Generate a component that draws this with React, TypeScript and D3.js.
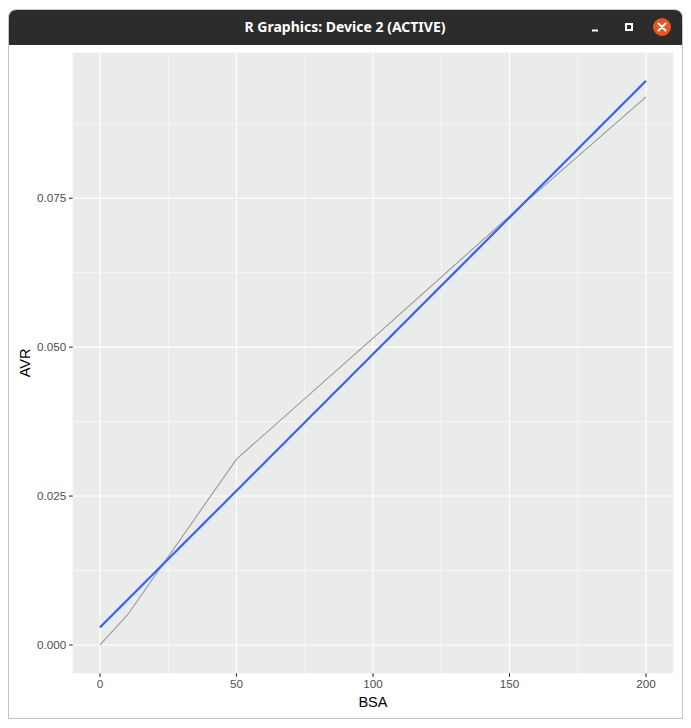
import React from "react";
import * as d3 from "d3";

const BSA = [0, 10, 50, 100, 150, 200];
const AVR = [0, 0.005, 0.0312, 0.0515, 0.072, 0.092];
const xTicks = [0, 50, 100, 150, 200];
const yTicks = [0, 0.025, 0.05, 0.075];
const xMinor = [25, 75, 125, 175];
const yMinor = [0.0125, 0.0375, 0.0625, 0.0875];
const xLabel = "BSA";
const yLabel = "AVR";
const windowTitle = "R Graphics: Device 2 (ACTIVE)";

export default function App() {
  const W = 691, H = 728;
  // linear fit (geom_smooth method = "lm")
  const mx = d3.mean(BSA)!;
  const my = d3.mean(AVR)!;
  let sxy = 0, sxx = 0;
  BSA.forEach((x, i) => { sxy += (x - mx) * (AVR[i] - my); sxx += (x - mx) * (x - mx); });
  const slope = sxy / sxx;
  const icpt = my - slope * mx;
  const xMin = d3.min(BSA)!, xMax = d3.max(BSA)!;
  const fitX = d3.range(0, 81).map(i => xMin + (xMax - xMin) * i / 80);
  const fitY = fitX.map(x => icpt + slope * x);

  const yAll = [...AVR, ...fitY];
  const yLo = d3.min(yAll)!, yHi = d3.max(yAll)!;
  const xPad = (xMax - xMin) * 0.05, yPad = (yHi - yLo) * 0.05;

  const pL = 72.7, pR = 673.3, pT = 52.6, pB = 673.2;
  const x = d3.scaleLinear().domain([xMin - xPad, xMax + xPad]).range([pL, pR]);
  const y = d3.scaleLinear().domain([yLo - yPad, yHi + yPad]).range([pB, pT]);

  const line = d3.line<[number, number]>().x(d => x(d[0])).y(d => y(d[1]));
  const dataPath = line(BSA.map((b, i) => [b, AVR[i]] as [number, number]))!;
  const fitPath = line(fitX.map((b, i) => [b, fitY[i]] as [number, number]))!;

  const tickCol = "#333333";
  const labCol = "#4d4d4d";
  const font = "'Liberation Sans', Arial, sans-serif";

  return (
    <svg width={W} height={H} style={{ position: "absolute", left: 0, top: 0, display: "block" }}>
      <rect x={0} y={0} width={W} height={H} fill="#ffffff" />
      {/* window frame */}
      <path d={`M8.5,718.5 L8.5,18 Q8.5,9.5 17,9.5 L674,9.5 Q682.5,9.5 682.5,18 L682.5,718.5 Z`} fill="#ffffff" stroke="#c4c4c4" strokeWidth={1} />
      <path d={`M9,45 L9,18 Q9,10 17,10 L674,10 Q682,10 682,18 L682,45 Z`} fill="#2c2c2c" />
      <text x={345} y={32} textAnchor="middle" fill="#ffffff" fontFamily="'Noto Sans', 'DejaVu Sans', sans-serif" fontWeight="bold" fontSize={14}>{windowTitle}</text>
      <line x1={592} x2={598} y1={30.5} y2={30.5} stroke="#ffffff" strokeWidth={2} />
      <rect x={626} y={24} width={6} height={6} fill="none" stroke="#ffffff" strokeWidth={2} />
      <circle cx={662} cy={27} r={9} fill="#e95420" />
      <path d="M658.5,23.5 L665.5,30.5 M665.5,23.5 L658.5,30.5" stroke="#ffffff" strokeWidth={2} strokeLinecap="round" />

      {/* panel */}
      <rect x={pL} y={pT} width={pR - pL} height={pB - pT} fill="#ebebeb" />
      {xMinor.map(v => <line key={"xm" + v} x1={x(v)} x2={x(v)} y1={pT} y2={pB} stroke="#ffffff" strokeWidth={0.55} />)}
      {yMinor.map(v => <line key={"ym" + v} y1={y(v)} y2={y(v)} x1={pL} x2={pR} stroke="#ffffff" strokeWidth={0.55} />)}
      {xTicks.map(v => <line key={"xM" + v} x1={x(v)} x2={x(v)} y1={pT} y2={pB} stroke="#ffffff" strokeWidth={1.1} />)}
      {yTicks.map(v => <line key={"yM" + v} y1={y(v)} y2={y(v)} x1={pL} x2={pR} stroke="#ffffff" strokeWidth={1.1} />)}

      <path d={dataPath} fill="none" stroke="#999999" strokeWidth={1.1} />
      <path d={fitPath} fill="none" stroke="#3366ff" strokeWidth={2.2} />

      {/* axes */}
      {xTicks.map(v => (
        <g key={"xt" + v}>
          <line x1={x(v)} x2={x(v)} y1={pB} y2={pB + 3.7} stroke={tickCol} strokeWidth={1.1} />
          <text x={x(v)} y={pB + 15} textAnchor="middle" fill={labCol} fontFamily={font} fontSize={11.7}>{v}</text>
        </g>
      ))}
      {yTicks.map(v => (
        <g key={"yt" + v}>
          <line x1={pL - 3.7} x2={pL} y1={y(v)} y2={y(v)} stroke={tickCol} strokeWidth={1.1} />
          <text x={pL - 6.5} y={y(v) + 4} textAnchor="end" fill={labCol} fontFamily={font} fontSize={11.7}>{d3.format(".3f")(v)}</text>
        </g>
      ))}
      <text x={(pL + pR) / 2} y={707} textAnchor="middle" fill="#000000" fontFamily={font} fontSize={14.6}>{xLabel}</text>
      <text transform={`translate(30,${(pT + pB) / 2}) rotate(-90)`} textAnchor="middle" fill="#000000" fontFamily={font} fontSize={14.6}>{yLabel}</text>
    </svg>
  );
}
